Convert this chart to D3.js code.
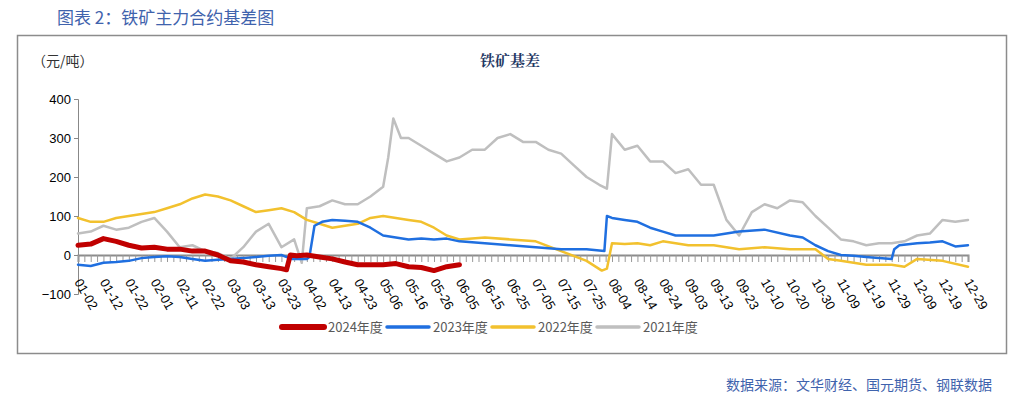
<!DOCTYPE html>
<html><head><meta charset="utf-8">
<script src="https://cdn.jsdelivr.net/npm/d3@7"></script>
<style>body{margin:0;background:#fff;font-family:"Noto Sans CJK SC","Noto Sans",sans-serif}</style>
</head><body><div id="chart"></div>
<script>
"use strict";
const tick_labels = ["01-02","01-12","01-22","02-01","02-11","02-22","03-03","03-13","03-23","04-02","04-13","04-23","05-06","05-16","05-26","06-05","06-15","06-25","07-05","07-15","07-25","08-04","08-14","08-24","09-03","09-13","09-23","10-10","10-20","10-30","11-09","11-19","11-29","12-09","12-19","12-29"];
const series_names = ["2024年度","2023年度","2022年度","2021年度"];
const series_colors = ["#c00000","#1f6fe0","#f2c12e","#bfbfbf"];
const series_widths = [5, 2.5, 2.5, 2.5];

// positions are in tick-label units
const x2024 = [0,0.5,1,1.5,2,2.5,3,3.5,4,4.5,5,5.5,6,6.5,7,7.5,8,8.2,8.35,8.6,9,9.5,10,10.5,11,11.5,12,12.5,13,13.5,14,14.5,15];
const v2024 = [25,28,42,35,25,18,20,15,15,10,10,0,-15,-18,-25,-30,-35,-38,0,-2,0,-5,-10,-18,-25,-25,-25,-22,-30,-32,-40,-30,-25];
const x2023 = [0,0.5,1,1.5,2,2.5,3,3.5,4,4.5,5,5.5,6,6.5,7,7.5,8,8.4,9,9.1,9.3,9.6,10,10.5,11,11.5,12,12.5,13,13.5,14,14.5,15,16,17,18,19,20,20.7,20.8,21,21.5,22,22.5,23,23.5,24,25,26,27,28,28.5,29,29.5,30,30.5,31,31.5,32,32.1,32.3,33,33.5,34,34.5,35];
const v2023 = [-25,-28,-20,-18,-15,-8,-5,-3,-5,-10,-15,-12,-10,-8,-5,-2,0,-10,-10,-5,75,85,90,88,85,70,50,45,40,42,40,42,35,30,25,20,15,15,10,100,95,90,85,70,60,50,50,50,60,65,50,45,25,10,0,-2,-5,-8,-10,15,25,30,32,35,22,25];
const x2022 = [0,0.5,1,1.5,2,2.5,3,3.5,4,4.5,5,5.5,6,6.5,7,7.5,8,8.5,9,9.5,10,10.5,11,11.5,12,12.5,13,13.5,14,14.5,15,16,17,18,19,20,20.6,20.8,21,21.5,22,22.5,23,23.5,24,25,26,27,28,29,29.5,30,31,32,32.5,33,34,35];
const v2022 = [95,85,85,95,100,105,110,120,130,145,155,150,140,125,110,115,120,110,90,80,70,75,80,95,100,95,90,85,70,50,40,45,40,35,10,-15,-40,-35,30,28,30,25,35,30,25,25,15,20,15,15,-10,-15,-25,-25,-30,-10,-15,-30];
const x2021 = [0,0.5,1,1.5,2,2.5,3,3.5,4,4.5,5,5.5,6,6.5,7,7.5,8,8.5,8.8,9,9.5,10,10.5,11,11.5,12,12.2,12.4,12.7,13,13.5,14,14.5,15,15.5,16,16.5,17,17.5,18,18.5,19,19.5,20,20.5,20.8,21,21.5,22,22.5,23,23.5,24,24.5,25,25.5,26,26.5,27,27.5,28,28.5,29,29.5,30,30.5,31,31.5,32,32.5,33,33.5,34,34.5,35];
const v2021 = [55,60,75,65,70,85,95,60,20,25,10,5,-10,20,60,80,20,40,-20,120,125,140,130,130,150,175,250,350,300,300,280,260,240,250,270,270,300,310,290,290,270,260,230,200,180,170,310,270,280,240,240,210,220,180,180,90,50,110,130,120,140,135,100,70,40,35,25,30,30,35,50,55,90,85,90];

const xs = [x2024, x2023, x2022, x2021];
const vs = [v2024, v2023, v2022, v2021];
const y_ticks = [-100, 0, 100, 200, 300, 400];

const W = 1022, H = 404;
const svg = d3.select("#chart").append("svg").attr("width", W).attr("height", H);

svg.append("text").attr("x", 57).attr("y", 24).attr("fill", "#3f63ad")
    .attr("font-size", 17).text("图表 2：铁矿主力合约基差图");
svg.append("rect").attr("x", 17.5).attr("y", 35.5).attr("width", 989).attr("height", 318)
    .attr("fill", "none").attr("stroke", "#8c8c8c").attr("stroke-width", 1.5);
svg.append("text").attr("x", 510).attr("y", 66).attr("text-anchor", "middle")
    .attr("font-family", "'Noto Serif CJK SC','Noto Sans CJK SC',serif").attr("font-weight", "bold")
    .attr("font-size", 15).attr("fill", "#1f3864").text("铁矿基差");
svg.append("text").attr("x", 32).attr("y", 66).attr("font-size", 14).attr("fill", "#333").text("（元/吨）");
svg.append("text").attr("x", 992).attr("y", 390).attr("text-anchor", "end")
    .attr("fill", "#3f63ad").attr("font-size", 14).text("数据来源：文华财经、国元期货、钢联数据");

const x = d3.scaleLinear().domain([0, 35]).range([78, 968]);
const y = d3.scaleLinear().domain([-100, 400]).range([294, 99]);

// y axis
const ya = svg.append("g").attr("transform", "translate(78,0)")
    .call(d3.axisLeft(y).tickValues(y_ticks).tickSize(4).tickPadding(3));
ya.select(".domain").attr("stroke", "#888");
ya.selectAll("line").attr("stroke", "#888");
ya.selectAll("text").attr("font-size", 13).attr("fill", "#000").attr("font-family", "Liberation Sans, sans-serif");

// x axis at zero
const xa = svg.append("g").attr("transform", `translate(0,${y(0)})`)
    .call(d3.axisBottom(x).tickValues(d3.range(0, 35.01, 0.25)).tickSize(7).tickFormat(""));
xa.select(".domain").attr("stroke", "#8c8c8c").attr("stroke-width", 2);
xa.selectAll("line").attr("stroke", "#999");

svg.append("g").selectAll("text").data(tick_labels).join("text")
    .attr("transform", (d, i) => `translate(${x(i) - 4},${y(-100) - 12}) rotate(60)`)
    .attr("font-size", 13).attr("font-family", "Liberation Sans, sans-serif").attr("fill", "#000")
    .text(d => d);

const line = d3.line().x(d => x(d[0])).y(d => y(d[1]));
for (let s = 3; s >= 0; s--) {
    const pts = xs[s].map((p, i) => [p, vs[s][i]]);
    svg.append("path").datum(pts).attr("d", line).attr("fill", "none")
        .attr("stroke", series_colors[s]).attr("stroke-width", series_widths[s])
        .attr("stroke-linejoin", "round").attr("stroke-linecap", "round");
}

// legend
const lg = svg.append("g").attr("transform", "translate(282,327)");
const offs = [0, 105, 210, 315];
series_names.forEach((n, i) => {
    lg.append("line").attr("x1", offs[i]).attr("x2", offs[i] + 42).attr("y1", 0).attr("y2", 0)
        .attr("stroke", series_colors[i]).attr("stroke-width", series_widths[i] + 1).attr("stroke-linecap", "round");
    lg.append("text").attr("x", offs[i] + 46).attr("y", 5).attr("font-size", 13)
        .attr("fill", "#595959").text(n);
});
</script></body></html>
